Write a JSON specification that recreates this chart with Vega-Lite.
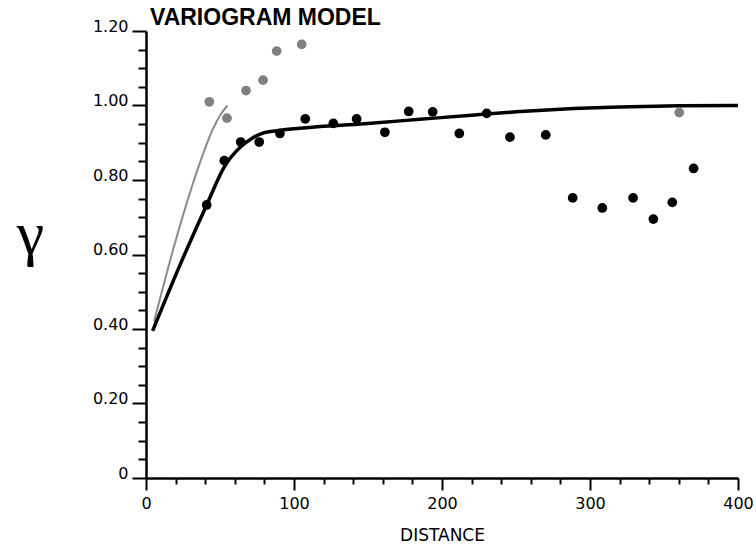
{
  "$schema": "https://vega.github.io/schema/vega-lite/v6.json",
  "width": 592,
  "height": 447,
  "autosize": "none",
  "padding": {"left": 146, "top": 31, "right": 18, "bottom": 74},
  "background": "white",
  "title": {"text": "VARIOGRAM MODEL", "anchor": "start", "frame": "group", "font": "Liberation Sans", "fontSize": 23, "fontWeight": "bold", "color": "black", "offset": 0, "baseline": "bottom", "dx": 4, "dy": 35},
  "config": {"view": {"stroke": null}},
  "datasets": {
    "pts": [
      {"d": 41.0, "g": 0.733, "set": "obs"},
      {"d": 52.9, "g": 0.852, "set": "obs"},
      {"d": 64.0, "g": 0.902, "set": "obs"},
      {"d": 76.5, "g": 0.902, "set": "obs"},
      {"d": 90.5, "g": 0.925, "set": "obs"},
      {"d": 107.6, "g": 0.964, "set": "obs"},
      {"d": 126.6, "g": 0.952, "set": "obs"},
      {"d": 142.3, "g": 0.964, "set": "obs"},
      {"d": 161.4, "g": 0.928, "set": "obs"},
      {"d": 177.5, "g": 0.984, "set": "obs"},
      {"d": 193.7, "g": 0.983, "set": "obs"},
      {"d": 211.7, "g": 0.925, "set": "obs"},
      {"d": 230.2, "g": 0.979, "set": "obs"},
      {"d": 245.9, "g": 0.915, "set": "obs"},
      {"d": 270.1, "g": 0.921, "set": "obs"},
      {"d": 288.3, "g": 0.752, "set": "obs"},
      {"d": 308.3, "g": 0.725, "set": "obs"},
      {"d": 329.1, "g": 0.752, "set": "obs"},
      {"d": 342.8, "g": 0.695, "set": "obs"},
      {"d": 355.6, "g": 0.740, "set": "obs"},
      {"d": 370.0, "g": 0.831, "set": "obs"},
      {"d": 42.8, "g": 1.010, "set": "alt"},
      {"d": 54.7, "g": 0.966, "set": "alt"},
      {"d": 67.6, "g": 1.040, "set": "alt"},
      {"d": 79.1, "g": 1.068, "set": "alt"},
      {"d": 88.3, "g": 1.146, "set": "alt"},
      {"d": 105.2, "g": 1.164, "set": "alt"},
      {"d": 360.3, "g": 0.981, "set": "alt"}
    ],
    "blackModel": [
      {"d": 4.5, "g": 0.395},
      {"d": 23, "g": 0.572},
      {"d": 41, "g": 0.733},
      {"d": 53, "g": 0.836},
      {"d": 64, "g": 0.889},
      {"d": 72, "g": 0.913},
      {"d": 80, "g": 0.927},
      {"d": 90, "g": 0.933},
      {"d": 120, "g": 0.944},
      {"d": 150, "g": 0.952},
      {"d": 185, "g": 0.963},
      {"d": 220, "g": 0.974},
      {"d": 250, "g": 0.983},
      {"d": 280, "g": 0.99},
      {"d": 320, "g": 0.996},
      {"d": 360, "g": 0.999},
      {"d": 400, "g": 1.0}
    ],
    "grayModel": [
      {"d": 5.4, "g": 0.42},
      {"d": 15, "g": 0.565},
      {"d": 25, "g": 0.705},
      {"d": 35, "g": 0.83},
      {"d": 45, "g": 0.935},
      {"d": 50, "g": 0.973},
      {"d": 55, "g": 1.0}
    ],
    "sill": [{"g": 1.0}]
  },
  "encoding": {
    "x": {
      "field": "d", "type": "quantitative",
      "scale": {"domain": [0, 400], "nice": false, "zero": false},
      "axis": {
        "values": [0,20,40,60,80,100,120,140,160,180,200,220,240,260,280,300,320,340,360,380,400],
        "labelExpr": "datum.value % 100 === 0 ? datum.label : ''",
        "format": "d",
        "grid": false,
        "domainColor": "black", "domainWidth": 2.5,
        "tickColor": "black", "tickWidth": 2,
        "tickSize": {"condition": {"test": "datum.value % 100 === 0", "value": 12}, "value": 6},
        "labelFont": "DejaVu Sans", "labelFontSize": 16, "labelColor": "black",
        "labelPadding": 5, "labelOverlap": false, "labelFlush": false,
        "title": "DISTANCE", "titleFont": "DejaVu Sans", "titleFontSize": 17,
        "titleFontWeight": "normal", "titleColor": "black",
        "titleY": 62, "titleBaseline": "alphabetic"
      }
    },
    "y": {
      "field": "g", "type": "quantitative",
      "scale": {"domain": [0, 1.2], "nice": false},
      "axis": {
        "values": [0,0.05,0.1,0.15,0.2,0.25,0.3,0.35,0.4,0.45,0.5,0.55,0.6,0.65,0.7,0.75,0.8,0.85,0.9,0.95,1.0,1.05,1.1,1.15,1.2],
        "labelExpr": "abs(datum.value*5 - round(datum.value*5)) < 0.001 ? (datum.value == 0 ? '0' : format(datum.value, '.2f')) : ''",
        "grid": false,
        "domainColor": "black", "domainWidth": 2.5,
        "tickColor": "black", "tickWidth": 2,
        "tickSize": {"condition": {"test": "abs(datum.value*5 - round(datum.value*5)) < 0.001", "value": 14}, "value": 8},
        "labelFont": "DejaVu Sans", "labelFontSize": 16, "labelColor": "black",
        "labelPadding": 4, "labelOverlap": false, "labelFlush": false, "labelBaseline": "alphabetic",
        "title": "γ", "titleAngle": 0, "titleX": -116, "titleY": 203,
        "titleFont": "Liberation Serif", "titleFontSize": 62, "titleFontWeight": "normal",
        "titleColor": "black", "titleAlign": "center", "titleBaseline": "middle"
      }
    }
  },
  "layer": [
    {
      "data": {"name": "sill"},
      "mark": {"type": "rule", "color": "black", "strokeWidth": 3},
      "encoding": {"x": {"datum": 0}, "x2": {"datum": 400}, "y": {"field": "g", "type": "quantitative"}}
    },
    {
      "data": {"name": "grayModel"},
      "mark": {"type": "line", "color": "#8c8c8c", "strokeWidth": 2, "interpolate": "monotone"},
      "encoding": {}
    },
    {
      "data": {"name": "blackModel"},
      "mark": {"type": "line", "color": "black", "strokeWidth": 3.5, "interpolate": "monotone"},
      "encoding": {}
    },
    {
      "data": {"name": "pts"},
      "mark": {"type": "circle", "opacity": 1, "size": 95},
      "encoding": {
        "color": {"field": "set", "type": "nominal", "scale": {"domain": ["obs", "alt"], "range": ["black", "#808080"]}, "legend": null}
      }
    }
  ]
}
